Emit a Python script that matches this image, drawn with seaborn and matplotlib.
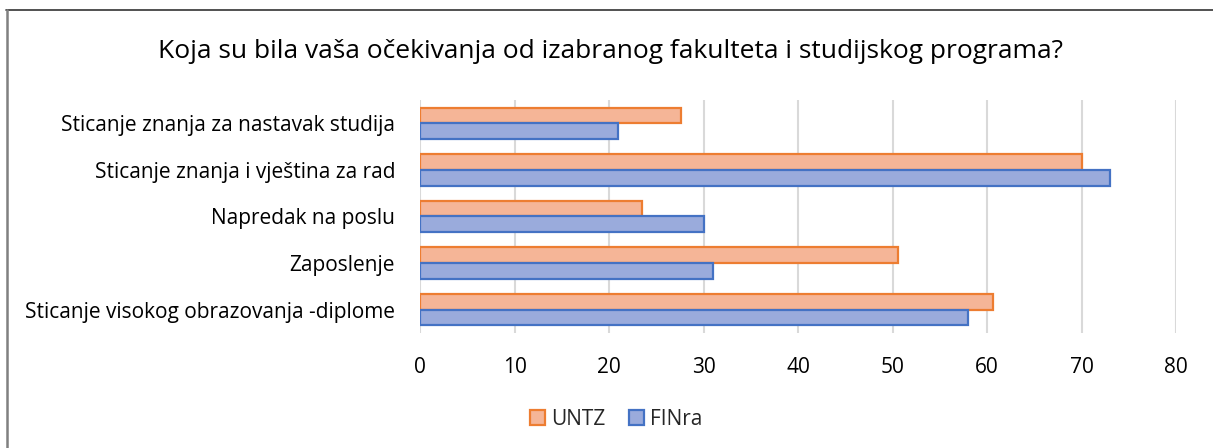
import matplotlib
matplotlib.use("Agg")
import matplotlib.pyplot as plt
from matplotlib.patches import Patch
from matplotlib.lines import Line2D
import seaborn as sns
import pandas as pd

categories = [
    "Sticanje znanja za nastavak studija",
    "Sticanje znanja i vještina za rad",
    "Napredak na poslu",
    "Zaposlenje",
    "Sticanje visokog obrazovanja -diplome",
]
untz = [27.6, 70.0, 23.5, 50.6, 60.6]
finra = [21.0, 73.0, 30.0, 31.0, 58.0]
series = ["UNTZ", "FINra"]
x_ticks = [0, 10, 20, 30, 40, 50, 60, 70, 80]
title = "Koja su bila vaša očekivanja od izabranog fakulteta i studijskog programa?"

fills = {"UNTZ": "#F5B597", "FINra": "#9AABDC"}
edges = {"UNTZ": "#ED7D31", "FINra": "#4472C4"}

df = pd.DataFrame({
    "kategorija": categories * 2,
    "vrijednost": untz + finra,
    "serija": [series[0]] * len(categories) + [series[1]] * len(categories),
})

sns.set_theme(style="white")
plt.rcParams["font.family"] = ["Open Sans", "DejaVu Sans"]

fig = plt.figure(figsize=(12.13, 4.48), dpi=100)
ax = fig.add_axes([0.3463, 0.2567, 0.6232, 0.5201])

sns.barplot(data=df, y="kategorija", x="vrijednost", hue="serija",
            order=categories, hue_order=series, palette=fills, saturation=1,
            width=0.67, orient="h", errorbar=None, ax=ax, legend=False,
            zorder=3)

for container, name in zip(ax.containers, series):
    for bar in container:
        bar.set_edgecolor(edges[name])
        bar.set_linewidth(1.6)

ax.set_xlim(0, 80)
ax.set_ylim(len(categories) - 0.5, -0.5)
ax.set_xticks(x_ticks)
ax.set_xticklabels([str(t) for t in x_ticks])
ax.xaxis.grid(True, color="#D9D9D9", linewidth=1.5, zorder=0)
ax.yaxis.grid(False)
ax.set_axisbelow(True)
for s in ax.spines.values():
    s.set_visible(False)
ax.set_xlabel("")
ax.set_ylabel("")
ax.tick_params(axis="x", length=0, pad=17, labelsize=15, colors="#000000")
ax.tick_params(axis="y", length=0, pad=18, labelsize=15, colors="#000000")

fig.text(0.503, 0.884, title, ha="center", va="center", fontsize=19, color="#000000")

handles = [Patch(facecolor=fills[n], edgecolor=edges[n], linewidth=1.6, label=n) for n in series]
fig.legend(handles=handles, loc="center", bbox_to_anchor=(0.508, 0.064), ncol=2,
           frameon=False, fontsize=15, handlelength=0.75, handleheight=0.75,
           handletextpad=0.3, columnspacing=1.1)

# chart frame
fig.add_artist(Line2D([6 / 1213, 1.0], [1 - 10 / 448, 1 - 10 / 448],
                      transform=fig.transFigure, color="#333333", linewidth=1.2))
fig.add_artist(Line2D([6.5 / 1213, 6.5 / 1213], [0, 1 - 10 / 448],
                      transform=fig.transFigure, color="#808080", linewidth=1.8))

fig.savefig("out.png", dpi=100, facecolor="white")
